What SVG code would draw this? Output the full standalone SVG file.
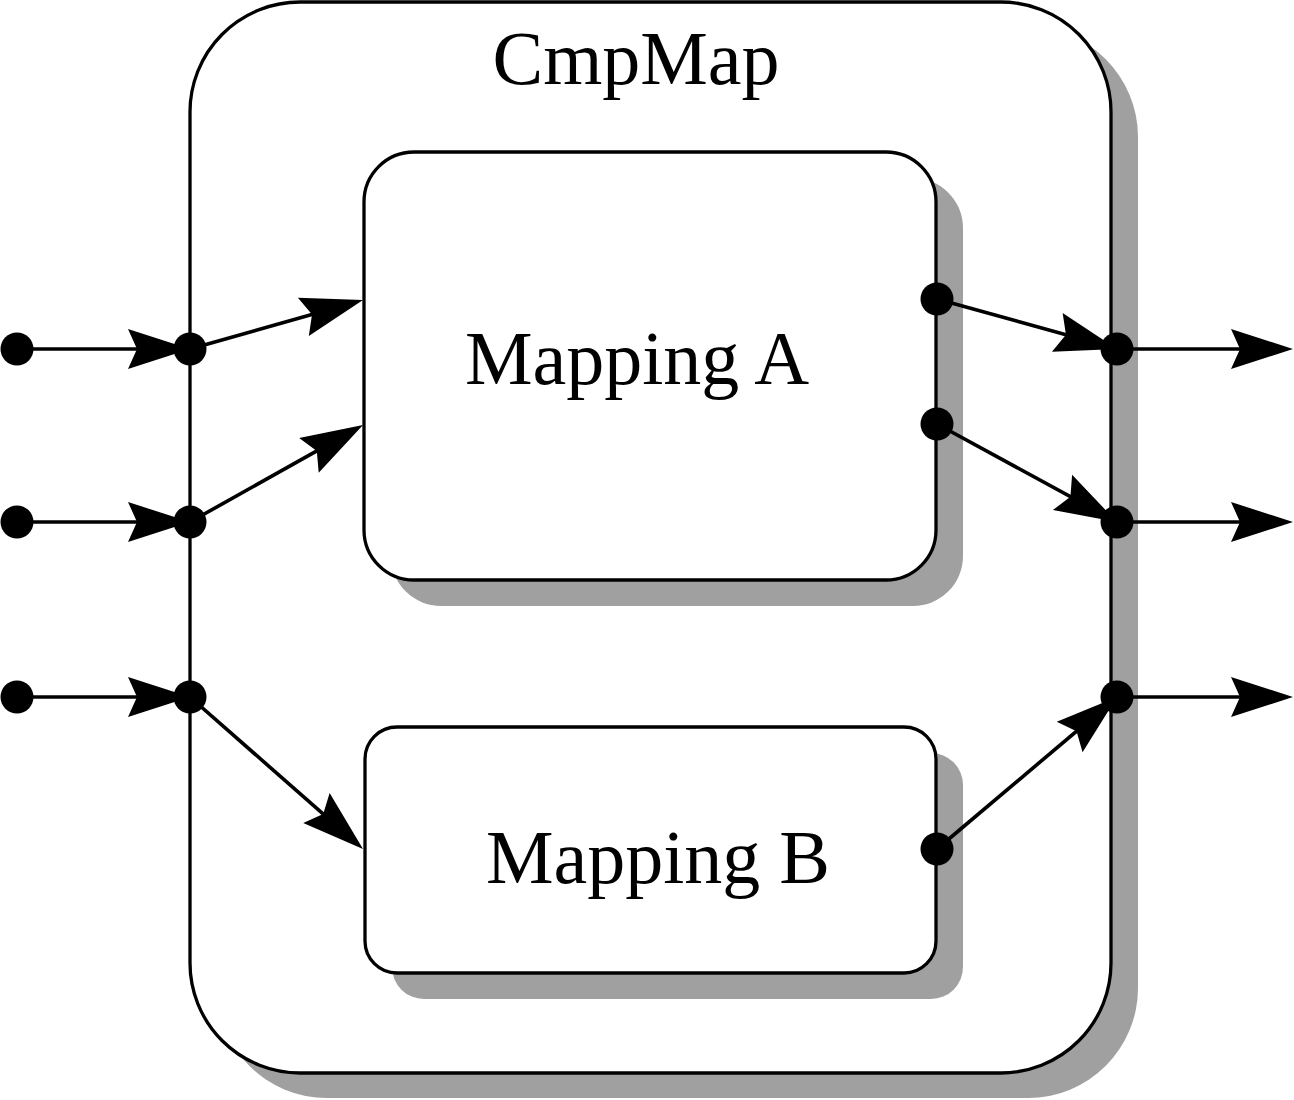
<svg xmlns="http://www.w3.org/2000/svg" width="1294" height="1100" viewBox="0 0 1294 1100">
<style>
.shadow{fill:#a0a0a0;stroke:none}
.box{fill:#ffffff;stroke:#000000;stroke-width:3.3}
.dot{fill:#000000}
.conn{fill:none;stroke:#000000;stroke-width:3.6}
.lbl{font-family:"Liberation Serif","Times New Roman",serif;font-size:76px;fill:#000000;text-anchor:middle}
</style>
<defs>
<marker id="arr" markerUnits="userSpaceOnUse" viewBox="-64 -22 66 44" markerWidth="66" markerHeight="44" refX="-10" refY="0" orient="auto" overflow="visible">
<path d="M0,0 L-62,-20 L-53,0 L-62,20 Z" fill="#000000"/>
</marker>
</defs>
<rect width="1294" height="1100" fill="#ffffff"/>
<g id="cmpmap">
<rect class="shadow" x="217" y="27" width="921" height="1071" rx="110" ry="110"/>
<rect class="box" x="190" y="2" width="921" height="1071" rx="110" ry="110"/>
<text class="lbl" x="636" y="84">CmpMap</text>
</g>
<g id="mappingA">
<rect class="shadow" x="391" y="178" width="572" height="428" rx="50" ry="50"/>
<rect class="box" x="364" y="152" width="572" height="428" rx="50" ry="50"/>
<text class="lbl" x="637" y="384">Mapping A</text>
</g>
<g id="mappingB">
<rect class="shadow" x="392" y="753" width="571" height="246" rx="32" ry="32"/>
<rect class="box" x="365" y="727" width="571" height="246" rx="32" ry="32"/>
<text class="lbl" x="658" y="883">Mapping B</text>
</g>
<g id="connectors">
<path class="conn" d="M17,349 L180,349" marker-end="url(#arr)"/>
<path class="conn" d="M17,522 L180,522" marker-end="url(#arr)"/>
<path class="conn" d="M17,697 L180,697" marker-end="url(#arr)"/>
<path class="conn" d="M190,349 L353.4,302.7" marker-end="url(#arr)"/>
<path class="conn" d="M190,522 L354.3,429.9" marker-end="url(#arr)"/>
<path class="conn" d="M190,697 L355.5,842.4" marker-end="url(#arr)"/>
<path class="conn" d="M937,299 L1107.4,346.3" marker-end="url(#arr)"/>
<path class="conn" d="M937,424 L1108.2,517.2" marker-end="url(#arr)"/>
<path class="conn" d="M937,849 L1109.4,703.5" marker-end="url(#arr)"/>
<path class="conn" d="M1117,349 L1283,349" marker-end="url(#arr)"/>
<path class="conn" d="M1117,522 L1283,522" marker-end="url(#arr)"/>
<path class="conn" d="M1117,697 L1283,697" marker-end="url(#arr)"/>
</g>
<g id="ports">
<circle class="dot" cx="17" cy="349" r="16.5"/>
<circle class="dot" cx="17" cy="522" r="16.5"/>
<circle class="dot" cx="17" cy="697" r="16.5"/>
<circle class="dot" cx="190" cy="349" r="16.5"/>
<circle class="dot" cx="190" cy="522" r="16.5"/>
<circle class="dot" cx="190" cy="697" r="16.5"/>
<circle class="dot" cx="937" cy="299" r="16.5"/>
<circle class="dot" cx="937" cy="424" r="16.5"/>
<circle class="dot" cx="937" cy="849" r="16.5"/>
<circle class="dot" cx="1117" cy="349" r="16.5"/>
<circle class="dot" cx="1117" cy="522" r="16.5"/>
<circle class="dot" cx="1117" cy="697" r="16.5"/>
</g>
</svg>
